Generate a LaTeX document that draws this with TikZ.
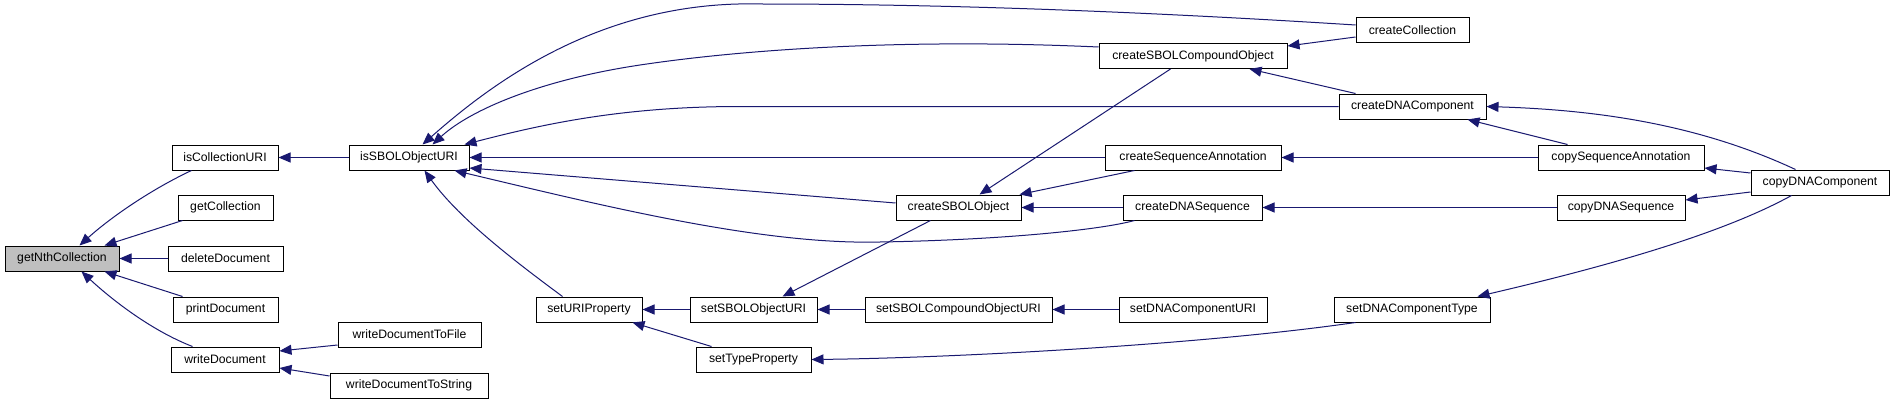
\documentclass[tikz,border=0pt]{standalone}
\usepackage{fontspec}
\setmainfont{Liberation Sans}
\usetikzlibrary{arrows.meta}
\definecolor{edgec}{RGB}{25,25,112}
\definecolor{hilite}{RGB}{191,191,191}
\tikzset{
  fn/.style={draw=black, line width=1pt, fill=white, inner sep=0pt, minimum height=25pt,
             font=\fontsize{12.2}{14}\selectfont, anchor=center},
  call/.style={draw=edgec, line width=1pt, {Triangle[length=12pt,width=10pt]}-}
}
\begin{document}
\begin{tikzpicture}[x=1pt,y=-1pt]
\fill[white] (0,0) rectangle (1895,404);
\useasboundingbox (0,0) rectangle (1895,404);
% nodes
\node[fn, fill=hilite, minimum width=114pt] (getNth) at (62,258.5) {getNthCollection};
\node[fn, minimum width=106pt] (isColl) at (225,157.5) {isCollectionURI};
\node[fn, minimum width=95pt] (getColl) at (225.5,207.5) {getCollection};
\node[fn, minimum width=115pt] (delDoc) at (225.5,258.5) {deleteDocument};
\node[fn, minimum width=105pt] (printDoc) at (225.5,309.5) {printDocument};
\node[fn, minimum width=108pt] (writeDoc) at (225,359.5) {writeDocument};
\node[fn, minimum width=143pt] (wdFile) at (409.5,334.5) {writeDocumentToFile};
\node[fn, minimum width=158pt] (wdString) at (409,385.5) {writeDocumentToString};
\node[fn, minimum width=120pt] (isSBOL) at (409,157.5) {isSBOLObjectURI};
\node[fn, minimum width=106pt] (setURI) at (589,309.5) {setURIProperty};
\node[fn, minimum width=127pt] (setSBOLURI) at (753.5,309.5) {setSBOLObjectURI};
\node[fn, minimum width=187pt] (setSBOLCompURI) at (958.5,309.5) {setSBOLCompoundObjectURI};
\node[fn, minimum width=148pt] (setDNACompURI) at (1193,309.5) {setDNAComponentURI};
\node[fn, minimum width=115pt] (setTypeProp) at (753.5,359.5) {setTypeProperty};
\node[fn, minimum width=125pt] (createSBOLObj) at (958.5,207.5) {createSBOLObject};
\node[fn, minimum width=139pt] (createDNASeq) at (1192.5,207.5) {createDNASequence};
\node[fn, minimum width=176pt] (createSeqAnn) at (1193,157.5) {createSequenceAnnotation};
\node[fn, minimum width=188pt] (createSBOLComp) at (1193,56) {createSBOLCompoundObject};
\node[fn, minimum width=113pt] (createColl) at (1412.5,30.5) {createCollection};
\node[fn, minimum width=147pt] (createDNAComp) at (1412.5,106.5) {createDNAComponent};
\node[fn, minimum width=166pt] (copySeqAnn) at (1621,157.5) {copySequenceAnnotation};
\node[fn, minimum width=138pt] (copyDNAComp) at (1820,182.5) {copyDNAComponent};
\node[fn, minimum width=128pt] (copyDNASeq) at (1621,207.5) {copyDNASequence};
\node[fn, minimum width=156pt] (setDNACompType) at (1412,309.5) {setDNAComponentType};
% edges (arrow at the callee)
\draw[call] ([xshift=75]getNth.north west) .. controls (110,218) and (150,190) .. ([xshift=20]isColl.south west);
\draw[call] ([xshift=100]getNth.north west) -- ([xshift=5]getColl.south west);
\draw[call] (getNth.east) -- (delDoc.west);
\draw[call] ([xshift=100]getNth.south west) -- ([xshift=10]printDoc.north west);
\draw[call] ([xshift=77]getNth.south west) .. controls (110,298) and (150,330) .. ([xshift=22]writeDoc.north west);
\draw[call] (isColl.east) -- (isSBOL.west);
\draw[call] ([yshift=8.5]writeDoc.east) -- ([yshift=-10.5]wdFile.west);
\draw[call] ([yshift=-8.5]writeDoc.east) -- ([yshift=9.5]wdString.west);
\draw[call] ([xshift=74]isSBOL.north west) .. controls (490,85) and (600,0) .. (760,4) .. controls (950,4) and (1150,12) .. ([yshift=5.5]createColl.west);
\draw[call] ([xshift=84]isSBOL.north west) .. controls (470,110) and (540,80) .. (640,65) .. controls (740,50) and (900,38) .. ([yshift=9]createSBOLComp.west);
\draw[call] ([xshift=116]isSBOL.north west) .. controls (540,125) and (620,106.5) .. (740,106.5) -- (createDNAComp.west);
\draw[call] (isSBOL.east) -- (createSeqAnn.west);
\draw[call] ([yshift=-10.5]isSBOL.east) -- ([yshift=4.5]createSBOLObj.west);
\draw[call] ([xshift=106]isSBOL.south west) .. controls (600,205) and (760,245) .. (880,242) .. controls (1000,240) and (1100,230) .. ([xshift=12]createDNASeq.south west);
\draw[call] ([xshift=76]isSBOL.south west) .. controls (460,220) and (520,265) .. ([xshift=27]setURI.north west);
\draw[call] ([xshift=84]createSBOLObj.north west) -- ([xshift=72]createSBOLComp.south west);
\draw[call] ([xshift=-2]createSBOLObj.north east) -- ([xshift=30]createSeqAnn.south west);
\draw[call] (createSBOLObj.east) -- (createDNASeq.west);
\draw[call] ([xshift=93]setSBOLURI.north west) -- ([xshift=35]createSBOLObj.south west);
\draw[call] (setURI.east) -- (setSBOLURI.west);
\draw[call] ([xshift=97]setURI.south west) -- ([xshift=16]setTypeProp.north west);
\draw[call] (setSBOLURI.east) -- (setSBOLCompURI.west);
\draw[call] (setSBOLCompURI.east) -- (setDNACompURI.west);
\draw[call] (setTypeProp.east) .. controls (950,358) and (1200,345) .. ([xshift=22]setDNACompType.south west);
\draw[call] ([yshift=10]createSBOLComp.east) -- ([yshift=-6.5]createColl.west);
\draw[call] ([xshift=151]createSBOLComp.south west) -- ([xshift=17]createDNAComp.north west);
\draw[call] (createSeqAnn.east) -- (copySeqAnn.west);
\draw[call] (createDNASeq.east) -- (copyDNASeq.west);
\draw[call] ([xshift=129]createDNAComp.south west) -- ([xshift=30]copySeqAnn.north west);
\draw[call] (createDNAComp.east) .. controls (1600,110) and (1700,125) .. ([xshift=45]copyDNAComp.north west);
\draw[call] ([yshift=-10.5]copySeqAnn.east) -- ([yshift=9.5]copyDNAComp.west);
\draw[call] ([yshift=7.5]copyDNASeq.east) -- ([yshift=-9.5]copyDNAComp.west);
\draw[call] ([xshift=144]setDNACompType.north west) .. controls (1600,268) and (1720,235) .. ([xshift=41]copyDNAComp.south west);
\end{tikzpicture}
\end{document}
